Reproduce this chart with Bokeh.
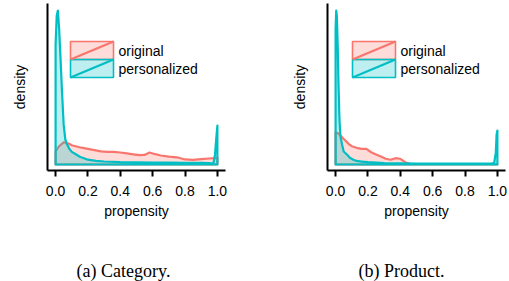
import numpy as np
from bokeh.plotting import figure
from bokeh.models import FixedTicker, PrintfTickFormatter, Label, ColumnDataSource
from bokeh.layouts import row, column
from bokeh.core.properties import value
from bokeh.embed import file_html
from bokeh.resources import INLINE

# ---------------- data ----------------
propensity_ticks = [0.0, 0.2, 0.4, 0.6, 0.8, 1.0]
series_names = ["original", "personalized"]
series_colors = ["#F8766D", "#00BFC4"]
captions = ["(a) Category.", "(b) Product."]

# (a) Category
cat_orig_x = [0.0, 0.02, 0.05, 0.08, 0.10, 0.13, 0.16, 0.20, 0.24, 0.28, 0.32, 0.36, 0.40,
              0.44, 0.48, 0.52, 0.55, 0.58, 0.61, 0.65, 0.70, 0.75, 0.80, 0.85, 0.90, 0.95, 1.0]
cat_orig_y = [1.1, 1.5, 1.85, 1.75, 1.6, 1.5, 1.4, 1.3, 1.2, 1.1, 1.05, 1.05, 1.0,
              0.92, 0.85, 0.78, 0.8, 1.0, 0.88, 0.75, 0.65, 0.6, 0.42, 0.38, 0.45, 0.5, 0.55]
cat_pers_x = [0.0, 0.007, 0.014, 0.022, 0.03, 0.04, 0.05, 0.06, 0.07, 0.085, 0.10, 0.125,
              0.15, 0.20, 0.25, 0.30, 0.40, 0.50, 0.60, 0.70, 0.80, 0.90, 0.95, 0.975,
              0.985, 0.993, 1.0]
cat_pers_y = [10.0, 12.4, 12.83, 11.3, 9.0, 6.0, 3.3, 2.1, 1.7, 1.3, 1.05, 0.85,
              0.65, 0.4, 0.3, 0.25, 0.2, 0.18, 0.16, 0.15, 0.14, 0.14, 0.12, 0.08,
              0.8, 2.2, 3.25]

# (b) Product
prod_orig_x = [0.0, 0.02, 0.04, 0.06, 0.08, 0.10, 0.13, 0.16, 0.19, 0.22, 0.25, 0.28, 0.31,
               0.34, 0.37, 0.40, 0.43, 0.46, 0.50, 0.60, 0.80, 1.0]
prod_orig_y = [5.47, 5.2, 4.63, 4.07, 3.5, 3.1, 2.83, 2.66, 2.66, 2.08, 1.69, 1.36, 0.97,
               0.8, 1.07, 0.97, 0.39, 0.12, 0.03, 0.02, 0.02, 0.02]
prod_pers_x = [0.0, 0.004, 0.008, 0.013, 0.018, 0.024, 0.03, 0.04, 0.05, 0.07, 0.09, 0.11,
               0.13, 0.16, 0.20, 0.30, 0.40, 0.50, 0.60, 0.70, 0.80, 0.90, 0.96, 0.98,
               0.99, 0.995, 1.0]
prod_pers_y = [22.9, 26.1, 25.1, 20.3, 13.6, 7.6, 4.75, 3.4, 2.2, 1.7, 1.1, 0.8,
               0.6, 0.5, 0.39, 0.25, 0.19, 0.17, 0.17, 0.17, 0.17, 0.17, 0.17, 0.25,
               2.0, 5.1, 5.76]

# ---------------- layout constants (pixels) ----------------
FIG_H = 241
CAP_H = 40
FRAME_W = 178
FRAME_TOP = 3
FRAME_H = 167
PEAK_PX = 7      # highest point, from the frame top
BASE_PX = 161    # zero density, from the frame top
SANS = "Liberation Sans"
SERIF = "Liberation Serif"
FILL_ALPHA = 0.26


def make_panel(series, border_left, border_right, legend_left_px):
    ymax = max(max(ys) for _, ys in series)
    k = (BASE_PX - PEAK_PX) / ymax
    y_start = -(FRAME_H - BASE_PX) / k
    y_end = ymax + PEAK_PX / k

    p = figure(width=border_left + FRAME_W + border_right, height=FIG_H,
               x_range=(-0.05, 1.05), y_range=(y_start, y_end),
               min_border_left=border_left, min_border_right=border_right,
               min_border_top=FRAME_TOP, min_border_bottom=FIG_H - FRAME_TOP - FRAME_H,
               toolbar_location=None, output_backend="svg")
    p.outline_line_color = None
    p.xgrid.visible = False
    p.ygrid.visible = False
    p.background_fill_color = "white"
    p.border_fill_color = "white"

    for (xs, ys), color in zip(series, series_colors):
        px = np.concatenate([[xs[0]], np.asarray(xs, float), [xs[-1]]])
        py = np.concatenate([[0.0], np.asarray(ys, float), [0.0]])
        p.patch(px, py, fill_color=color, fill_alpha=FILL_ALPHA,
                line_color=color, line_width=2.2, line_join="round")

    # legend (drawn like the ggplot key: box + diagonal)
    def xd(px_):
        return -0.05 + px_ * 1.1 / FRAME_W

    def yd(py_):
        return y_end - py_ * (y_end - y_start) / FRAME_H

    box_w = 43
    tops = [38, 56]
    box_h = 18
    src = ColumnDataSource(dict(
        left=[xd(legend_left_px)] * 2,
        right=[xd(legend_left_px + box_w)] * 2,
        top=[yd(t) for t in tops],
        bottom=[yd(t + box_h) for t in tops],
        mid=[yd(t + box_h / 2) for t in tops],
        tx=[xd(legend_left_px + box_w + 5)] * 2,
        name=series_names,
        color=series_colors,
    ))
    p.quad(left="left", right="right", top="top", bottom="bottom", source=src,
           fill_color="color", fill_alpha=FILL_ALPHA, line_color="color", line_width=1.6)
    p.segment(x0="left", y0="bottom", x1="right", y1="top", source=src,
              line_color="color", line_width=2.2)
    p.text(x="tx", y="mid", text="name", source=src, text_baseline="middle",
           text_font=value(SANS), text_font_size="14px", text_color="black")

    # axes
    xa = p.xaxis[0]
    xa.ticker = FixedTicker(ticks=propensity_ticks)
    xa.formatter = PrintfTickFormatter(format="%.1f")
    xa.minor_tick_line_color = None
    xa.major_tick_in = 0
    xa.major_tick_out = 6
    xa.major_tick_line_width = 2
    xa.axis_line_width = 2
    xa.major_label_text_font = SANS
    xa.major_label_text_font_size = "14px"
    xa.major_label_text_color = "black"
    xa.major_label_standoff = 9
    xa.axis_label = "propensity"
    xa.axis_label_text_font = SANS
    xa.axis_label_text_font_size = "14px"
    xa.axis_label_text_font_style = "normal"
    xa.axis_label_text_color = "black"
    xa.axis_label_standoff = 4

    ya = p.yaxis[0]
    ya.ticker = FixedTicker(ticks=[])
    ya.minor_tick_line_color = None
    ya.major_tick_line_color = None
    ya.axis_line_width = 2
    ya.axis_label = "density"
    ya.axis_label_text_font = SANS
    ya.axis_label_text_font_size = "14px"
    ya.axis_label_text_font_style = "normal"
    ya.axis_label_text_color = "black"
    ya.axis_label_standoff = 20
    return p


def make_caption(text, width, center_px):
    c = figure(width=width, height=CAP_H, x_axis_type=None, y_axis_type=None,
               min_border=0, toolbar_location=None, output_backend="svg")
    c.outline_line_color = None
    c.xgrid.visible = False
    c.ygrid.visible = False
    c.add_layout(Label(x=center_px, y=11, x_units="screen", y_units="screen",
                       text=text, text_align="center", text_baseline="middle",
                       text_font=SERIF, text_font_size="18px", text_color="black"))
    return c


p1 = make_panel([(cat_orig_x, cat_orig_y), (cat_pers_x, cat_pers_y)],
                border_left=47, border_right=25, legend_left_px=23)
p2 = make_panel([(prod_orig_x, prod_orig_y), (prod_pers_x, prod_pers_y)],
                border_left=77, border_right=4, legend_left_px=25)
c1 = make_caption(captions[0], 250, 123)
c2 = make_caption(captions[1], 259, 151)

layout = column(row(p1, p2), row(c1, c2))
open("out.html", "w").write(file_html(layout, INLINE))
